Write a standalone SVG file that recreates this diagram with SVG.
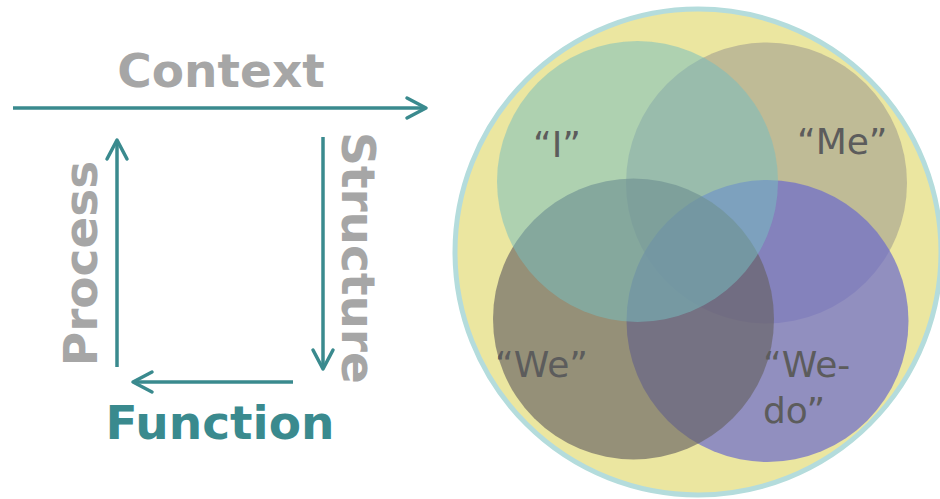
<svg xmlns="http://www.w3.org/2000/svg" width="940" height="499" viewBox="0 0 940 499">
  <style>
    .lbl { font-family: "DejaVu Sans", Verdana, sans-serif; font-weight: bold; font-size: 47px; }
    .gray { fill: #a6a6a6; }
    .teal { fill: #3a8a8e; }
    .conn { stroke: #3a8a8e; stroke-width: 3.5; fill: none; }
    .venn { font-family: "DejaVu Sans", Verdana, sans-serif; font-size: 36px; fill: #5c5c5c; }
  </style>
  <defs>
    <marker id="arr" markerUnits="userSpaceOnUse" markerWidth="26" markerHeight="26" refX="21" refY="12" orient="auto" overflow="visible">
      <path d="M2,2 L21,12 L2,22" fill="none" stroke="#3a8a8e" stroke-width="3.5" stroke-linecap="round" stroke-linejoin="round"/>
    </marker>
  </defs>
  <rect width="940" height="499" fill="#ffffff"/>

  <g id="connectors">
    <line class="conn" x1="13" y1="108" x2="426" y2="108" marker-end="url(#arr)"/>
    <line class="conn" x1="117" y1="367" x2="117" y2="140" marker-end="url(#arr)"/>
    <line class="conn" x1="323" y1="137" x2="323" y2="369" marker-end="url(#arr)"/>
    <line class="conn" x1="293" y1="382" x2="133" y2="382" marker-end="url(#arr)"/>
  </g>

  <g id="context"><text class="lbl gray" x="221" y="87" text-anchor="middle">Context</text></g>
  <g id="function"><text class="lbl teal" x="220" y="439" text-anchor="middle">Function</text></g>
  <g id="process"><text class="lbl gray" text-anchor="middle" transform="translate(97,263.5) rotate(-90)">Process</text></g>
  <g id="structure"><text class="lbl gray" text-anchor="middle" transform="translate(342,258) rotate(90)">Structure</text></g>

  <g id="venn">
    <circle id="outer" cx="698" cy="252" r="243" fill="#ebe6a0" stroke="#b4dcdc" stroke-width="5"/>
    <circle id="me" cx="766.5" cy="183" r="140.5" fill="#93908c" fill-opacity="0.5"/>
    <circle id="wedo" cx="767.5" cy="321" r="141" fill="#6c6bcc" fill-opacity="0.71"/>
    <circle id="we" cx="633.5" cy="319" r="140.5" fill="#676362" fill-opacity="0.65"/>
    <circle id="i" cx="637.5" cy="181.5" r="140.5" fill="#76bebf" fill-opacity="0.52"/>
    <text class="venn" x="533" y="157">“I”</text>
    <text class="venn" x="797" y="154">“Me”</text>
    <text class="venn" x="495" y="377">“We”</text>
    <text class="venn" x="763" y="377">“We-</text>
    <text class="venn" x="763" y="423">do”</text>
  </g>
</svg>
